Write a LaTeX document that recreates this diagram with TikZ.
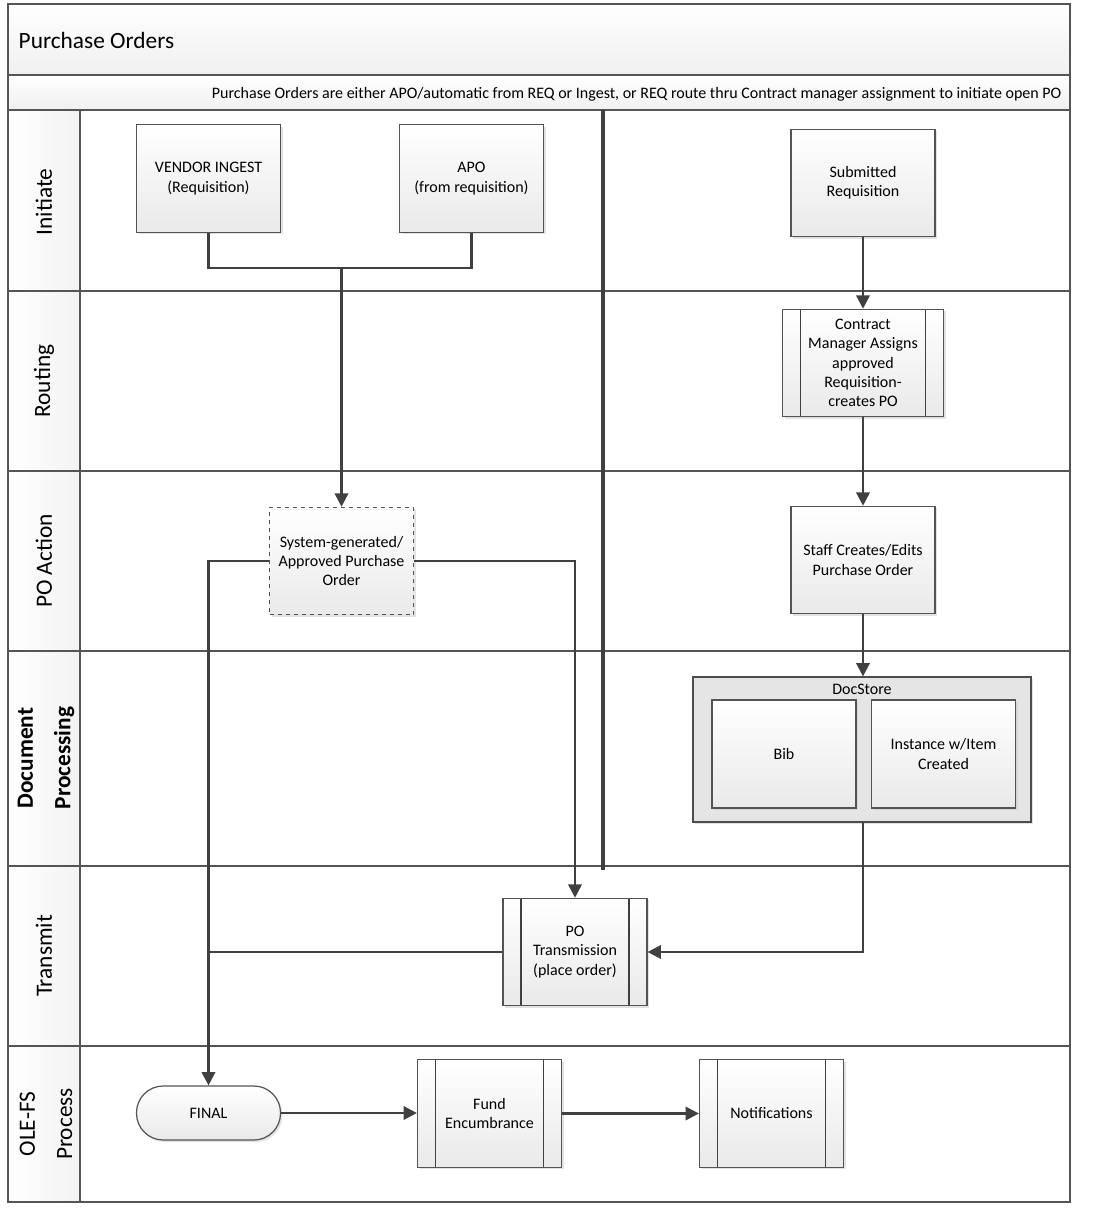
\documentclass[tikz,border=0pt]{standalone}
\usepackage{fontspec}
\setmainfont{Carlito}
\usetikzlibrary{arrows.meta,shadows}
\definecolor{lc}{HTML}{404040}
\definecolor{fr}{HTML}{555555}
\begin{document}
\begin{tikzpicture}[x=0.75pt,y=-0.75pt,
  every node/.style={font=\fontsize{12}{14.4}\selectfont, text=black},
  ln/.style={draw=lc, line width=1.9pt},
  conn/.style={ln, -{Triangle[length=10pt,width=10pt]}},
  frameline/.style={draw=fr, line width=1.4pt},
  box/.style={draw=lc!90, line width=0.9pt, top color=white, bottom color=gray!17,
    minimum width=#1, minimum height=80.5pt, align=center, inner sep=2pt,
    drop shadow={shadow xshift=1.5pt, shadow yshift=-1.5pt, fill=gray!45, opacity=0.5}},
  box/.default=108pt,
  proc/.style={box=#1, path picture={
    \draw[lc, line width=0.9pt]
      ([xshift=13.5pt]path picture bounding box.north west) -- ([xshift=13.5pt]path picture bounding box.south west)
      ([xshift=-13.5pt]path picture bounding box.north east) -- ([xshift=-13.5pt]path picture bounding box.south east);}},
  proc/.default=108pt,
  lanelabel/.style={rotate=90, font=\fontsize{17.5}{22}\selectfont, align=center}
]
\useasboundingbox (0,0) rectangle (1099,1208);
% bands
\path[top color=white, bottom color=gray!12] (8,4) rectangle (1070,75);
\path[top color=white, bottom color=gray!12] (8,75) rectangle (1070,110);
\path[left color=white, right color=gray!10] (8,110) rectangle (80,1202);
% lane separators
\foreach \yy in {75,110,291,471,651,866,1046}
  \draw[frameline] (8,\yy) -- (1070,\yy);
\draw[frameline] (80,110) -- (80,1202);
\draw[frameline] (8,4) rectangle (1070,1202);
% title texts
\node[anchor=west, font=\fontsize{17.5}{20}\selectfont] (title) at (14,40) {Purchase Orders};
\node[anchor=east] (subtitle) at (1066,94) {Purchase Orders are either APO/automatic from REQ or Ingest, or REQ route thru Contract manager assignment to initiate open PO};
% lane labels
\node[lanelabel] (lInit) at (44,202) {Initiate};
\node[lanelabel] (lRout) at (44,381) {Routing};
\node[lanelabel] (lPO) at (44,561) {PO Action};
\node[lanelabel, font=\fontsize{17.5}{28}\bfseries] (lDoc) at (46,758) {Document\\Processing};
\node[lanelabel] (lTx) at (44,956) {Transmit};
\node[lanelabel, font=\fontsize{17.5}{28}\selectfont] (lOle) at (46,1124) {OLE-FS\\Process};
% vertical separator
\draw[lc, line width=2.8pt] (603,110) -- (603,870);
% nodes
\node[box] (vendor) at (208.5,178.5) {VENDOR INGEST\\(Requisition)};
\node[box] (apo) at (471.5,178.5) {APO\\(from requisition)};
\node[box] (subm) at (863,183) {Submitted\\Requisition};
\node[proc=120.75pt] (contract) at (863,363) {Contract\\Manager Assigns\\approved\\Requisition-\\creates PO};
\node[box] (staff) at (863,560) {Staff Creates/Edits\\Purchase Order};
\node[box, dashed] (sysgen) at (341.5,561) {System-generated/\\Approved Purchase\\Order};
\node[draw=gray!60!black, line width=0.9pt, fill=gray!20, minimum width=253.5pt, minimum height=108.75pt,
  drop shadow={shadow xshift=1.5pt, shadow yshift=-1.5pt, fill=gray!45, opacity=0.5}] (docstore) at (862,749.5) {};
\node[anchor=north, inner sep=1pt] (dslabel) at (862,683) {DocStore};
\node[box, minimum height=81pt] (bib) at (784,754) {Bib};
\node[box, minimum height=81pt] (inst) at (943.5,754) {Instance w/Item\\Created};
\node[proc] (potx) at (575,952) {PO\\Transmission\\(place order)};
\node[box, minimum height=40.5pt, rounded corners=20pt] (final) at (208.5,1113) {FINAL};
\node[proc] (fund) at (489.5,1113.5) {Fund\\Encumbrance};
\node[proc] (notif) at (771.5,1113.5) {Notifications};
% connectors
\coordinate (join) at (341.5,268);
\draw[ln] (vendor.south) |- (join) -| (apo.south);
\draw[conn] (join) -- (sysgen.north);
\draw[conn] (subm.south) -- (contract.north);
\draw[conn] (contract.south) -- (staff.north);
\draw[conn] (staff.south) -- (staff.south |- docstore.north);
\draw[conn] (staff.south |- docstore.south) |- (potx.east);
\draw[conn] (sysgen.east) -| (potx.north);
\draw[conn] (sysgen.west) -| (final.north);
\draw[ln] (potx.west) -- (potx.west -| final.north);
\draw[conn] (final.east) -- (fund.west |- final.east);
\draw[conn] (fund.east) -- (notif.west);
\end{tikzpicture}
\end{document}
